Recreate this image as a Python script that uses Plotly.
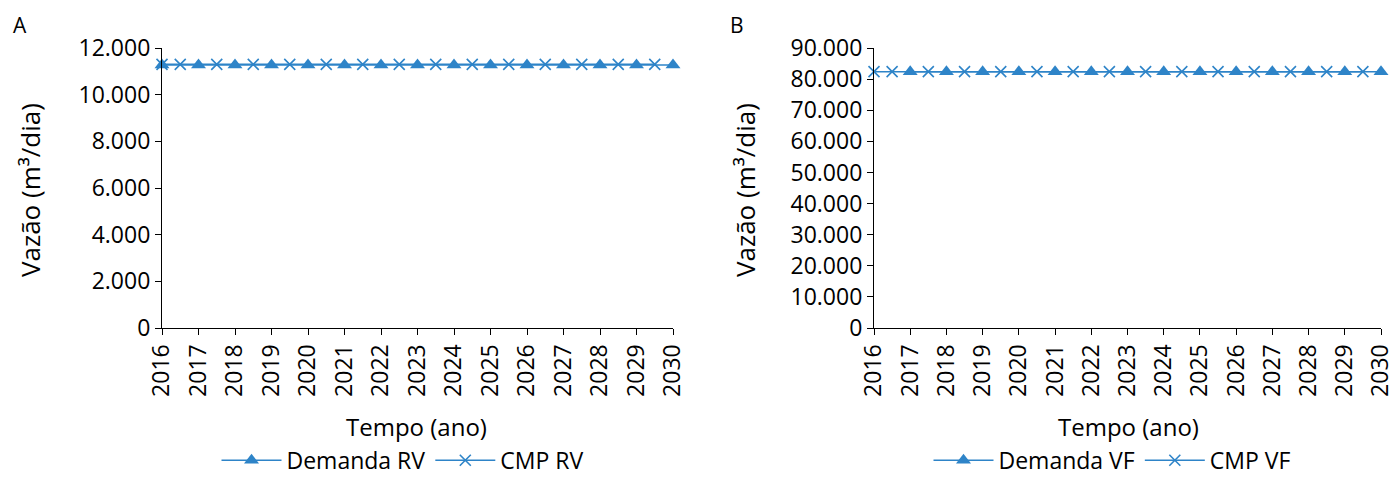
import plotly.graph_objects as go

# ---- data ----
years_ticks = [2016, 2017, 2018, 2019, 2020, 2021, 2022, 2023, 2024, 2025, 2026, 2027, 2028, 2029, 2030]

demanda_rv_x = [2016, 2017, 2018, 2019, 2020, 2021, 2022, 2023, 2024, 2025, 2026, 2027, 2028, 2029, 2030]
demanda_rv_y = [11270, 11270, 11270, 11270, 11270, 11270, 11270, 11270, 11270, 11270, 11270, 11270, 11270, 11270, 11270]
cmp_rv_x = [2016, 2016.5, 2017.5, 2018.5, 2019.5, 2020.5, 2021.5, 2022.5, 2023.5, 2024.5, 2025.5, 2026.5, 2027.5, 2028.5, 2029.5]
cmp_rv_y = [11300, 11300, 11300, 11300, 11300, 11300, 11300, 11300, 11300, 11300, 11300, 11300, 11300, 11300, 11300]

demanda_vf_x = [2017, 2018, 2019, 2020, 2021, 2022, 2023, 2024, 2025, 2026, 2027, 2028, 2029, 2030]
demanda_vf_y = [82400, 82400, 82400, 82400, 82400, 82400, 82400, 82400, 82400, 82400, 82400, 82400, 82400, 82400]
cmp_vf_x = [2016, 2016.5, 2017.5, 2018.5, 2019.5, 2020.5, 2021.5, 2022.5, 2023.5, 2024.5, 2025.5, 2026.5, 2027.5, 2028.5, 2029.5]
cmp_vf_y = [82400, 82400, 82400, 82400, 82400, 82400, 82400, 82400, 82400, 82400, 82400, 82400, 82400, 82400, 82400]

BLUE = "#2E84C8"
FONT = "Open Sans"
FS = 23
W, H = 1397, 478

fig = go.Figure()

def add_pair(xd, yd, xc, yc, names, xa, ya, leg):
    fig.add_trace(go.Scatter(
        x=xd, y=yd, name=names[0], mode="lines+markers", xaxis=xa, yaxis=ya, legend=leg,
        line=dict(color=BLUE, width=1.5),
        marker=dict(symbol="triangle-up", size=13, color=BLUE),
        cliponaxis=False))
    fig.add_trace(go.Scatter(
        x=xc, y=yc, name=names[1], mode="lines+markers", xaxis=xa, yaxis=ya, legend=leg,
        line=dict(color=BLUE, width=1.5),
        marker=dict(symbol="x-thin", size=11, color=BLUE, line=dict(color=BLUE, width=1.6)),
        cliponaxis=False))

add_pair(demanda_rv_x, demanda_rv_y, cmp_rv_x, cmp_rv_y, ["Demanda RV", "CMP RV"], "x", "y", "legend")
add_pair(demanda_vf_x, demanda_vf_y, cmp_vf_x, cmp_vf_y, ["Demanda VF", "CMP VF"], "x2", "y2", "legend2")

ydom = [1 - 328 / H, 1 - 48 / H]
xdomA = [162 / W, 673 / W]
xdomB = [874 / W, 1381 / W]

xcommon = dict(range=[2016, 2030], tickmode="array", tickvals=years_ticks,
               ticktext=[str(v) for v in years_ticks], tickangle=-90,
               showline=True, linecolor="#000", linewidth=1.2, ticks="outside",
               ticklen=6, tickcolor="#000", showgrid=False, zeroline=False,
               ticklabeloverflow="allow",
               tickfont=dict(family=FONT, size=FS, color="#000"), automargin=False)
ycommon = dict(showline=True, linecolor="#000", linewidth=1.2, ticks="outside",
               ticklen=6, tickcolor="#000", showgrid=False, zeroline=False,
               tickformat=",d", tickfont=dict(family=FONT, size=FS, color="#000"),
               automargin=False)

fig.update_layout(
    width=W, height=H,
    margin=dict(l=0, r=0, t=0, b=0, autoexpand=False),
    paper_bgcolor="white", plot_bgcolor="white",
    separators=",.",
    font=dict(family=FONT, color="#000"),
    xaxis=dict(domain=xdomA, anchor="y", **xcommon),
    yaxis=dict(domain=ydom, anchor="x", range=[0, 12000], dtick=2000, **ycommon),
    xaxis2=dict(domain=xdomB, anchor="y2", **xcommon),
    yaxis2=dict(domain=ydom, anchor="x2", range=[0, 90000], dtick=10000, **ycommon),
    legend=dict(orientation="h", x=(165 + 640) / 2 / W, xanchor="center", y=-0.008, yanchor="bottom",
                font=dict(family=FONT, size=FS, color="#000"), itemwidth=60, bgcolor="rgba(0,0,0,0)"),
    legend2=dict(orientation="h", x=(880 + 1345) / 2 / W, xanchor="center", y=-0.008, yanchor="bottom",
                 font=dict(family=FONT, size=FS, color="#000"), itemwidth=60, bgcolor="rgba(0,0,0,0)"),
    showlegend=True,
)

ann = [
    dict(text="A", x=20 / W, y=1 - 25 / H, font=dict(size=21)),
    dict(text="B", x=737 / W, y=1 - 25 / H, font=dict(size=21)),
    dict(text="Vazão (m³/dia)", x=30 / W, y=1 - 190 / H, textangle=-90, font=dict(size=26)),
    dict(text="Vazão (m³/dia)", x=745 / W, y=1 - 190 / H, textangle=-90, font=dict(size=26)),
    dict(text="Tempo (ano)", x=417 / W, y=1 - 426 / H, font=dict(size=24)),
    dict(text="Tempo (ano)", x=1128 / W, y=1 - 426 / H, font=dict(size=24)),
]
for a in ann:
    f = dict(family=FONT, color="#000")
    f.update(a.pop("font"))
    fig.add_annotation(xref="paper", yref="paper", showarrow=False,
                       xanchor="center", yanchor="middle", font=f, **a)

fig.write_html("out.html")
